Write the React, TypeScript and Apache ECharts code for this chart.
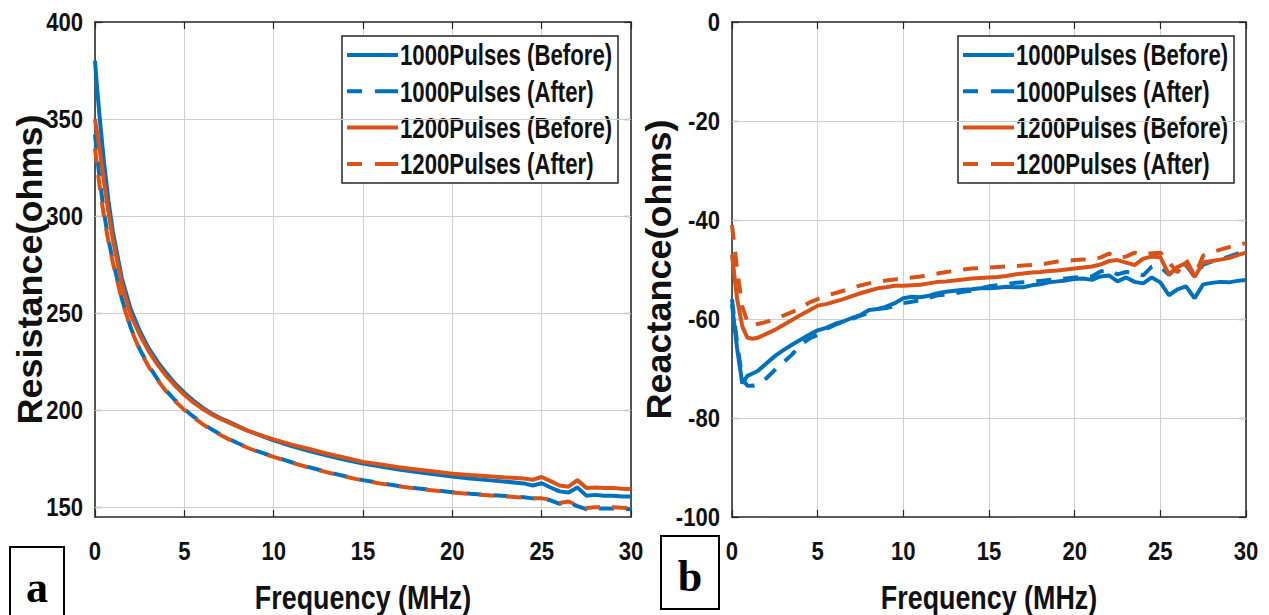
import { useEffect, useRef } from "react";
import * as echarts from "echarts";

// ---- Panel (a): resistance vs frequency ----
const freqRes = [0, 0.1, 0.25, 0.5, 0.75, 1, 1.5, 2, 2.5, 3, 3.5, 4, 4.5, 5, 5.5, 6, 6.5, 7, 7.5, 8, 8.5, 9, 9.5, 10, 11, 12, 13, 14, 15, 16, 17, 18, 19, 20, 21, 22, 23, 24, 24.5, 25, 25.5, 26, 26.5, 27, 27.5, 28, 28.5, 29, 29.5, 30];
const res1000Before = [380, 368, 352, 328, 308, 292, 268, 252, 241, 232, 225, 219, 213.5, 209, 205, 201.5, 198.5, 196, 194, 191.8, 189.6, 188, 186.2, 184.5, 181.5, 179, 176.6, 174.5, 172.5, 171, 169.5, 168.2, 167, 165.8, 164.8, 164, 163.2, 162.3, 161.2, 162.4, 160.2, 158.2, 157.6, 160.2, 156, 156.4, 156, 156, 155.6, 155.5];
const res1000After = [342, 333, 320, 302, 288, 277, 257.5, 242.5, 231.5, 223, 216, 210, 205, 200.6, 196.8, 193.4, 190.3, 187.6, 185.2, 183, 181, 179.2, 177.6, 176.2, 173.2, 170.6, 168.2, 166, 164, 162.4, 161, 159.8, 158.8, 157.8, 157, 156.4, 155.8, 155.2, 154.6, 154.4, 153.6, 151.8, 152.6, 150.6, 149, 149.4, 149.4, 149.4, 149.2, 149];
const res1200Before = [350, 344, 335, 318, 302, 288, 265, 249, 239, 230.5, 223.5, 217.5, 212.5, 208, 204, 200.8, 198, 195.6, 193.6, 191.6, 189.6, 188, 186.4, 185, 182.3, 180, 177.6, 175.5, 173.4, 172, 170.6, 169.5, 168.4, 167.3, 166.6, 166, 165.4, 164.8, 164.2, 165.6, 163.5, 161.2, 160.6, 164, 160, 160.2, 160, 160, 159.6, 159.4];
const res1200After = [335, 327, 316, 300, 287, 276, 257, 242, 231, 222.5, 215.5, 209.5, 204.5, 200.2, 196.4, 193, 190, 187.4, 185, 182.8, 180.8, 179, 177.4, 176, 173, 170.4, 168, 165.8, 163.8, 162.2, 160.8, 159.6, 158.6, 157.6, 156.8, 156.2, 155.6, 155, 154.6, 154.6, 154, 152.2, 153, 151, 149.6, 150, 150, 150, 149.8, 149.6];

// ---- Panel (b): reactance vs frequency ----
const freqReac = [0, 0.3, 0.6, 0.9, 1.2, 1.5, 2, 2.5, 3, 3.5, 4, 4.5, 5, 5.5, 6, 6.5, 7, 7.5, 8, 8.5, 9, 9.5, 10, 10.5, 11, 11.5, 12, 12.5, 13, 13.5, 14, 14.5, 15, 15.5, 16, 16.5, 17, 17.5, 18, 18.5, 19, 19.5, 20, 20.5, 21, 21.5, 22, 22.5, 23, 23.5, 24, 24.5, 25, 25.5, 26, 26.5, 27, 27.5, 28, 28.5, 29, 29.5, 30];
const reac1000Before = [-57, -66, -73, -71.5, -71, -70.5, -69, -67.5, -66.3, -65.2, -64.2, -63.2, -62.3, -61.8, -61, -60.5, -59.8, -59.2, -58.2, -58, -57.5, -56.8, -55.8, -55.5, -55.6, -55.3, -54.8, -54.5, -54.3, -54.1, -54, -53.8, -53.8, -53.7, -53.5, -53.6, -53.6, -53.2, -53, -52.6, -52.4, -52.2, -51.9, -51.8, -52.1, -51.4, -51.2, -52.4, -51.6, -52.5, -52.8, -51.6, -52.6, -55.2, -54, -53.4, -55.8, -53, -52.7, -52.5, -52.6, -52.3, -52.1];
const reac1000After = [-56, -65, -72, -73.5, -73.5, -73.2, -72, -70.3, -68.8, -67.2, -65.2, -64, -63.2, -62, -61.2, -60.6, -60, -59.3, -58.8, -58, -57.8, -57.4, -56.8, -56.5, -56.2, -55.7, -55.2, -55.1, -54.8, -54.5, -54.3, -53.8, -53.4, -53.2, -53, -52.7, -52.6, -52.5, -52.3, -52.1, -52, -51.8, -51.6, -51.5, -51.4, -50.4, -50.1, -51, -50.5, -50.6, -51.2, -49.4, -49.4, -51.1, -49.5, -49.1, -51.5, -49, -48.4, -47.9, -47.4, -46.8, -46.5];
const reac1200Before = [-47, -56, -61.5, -63.8, -64, -63.8, -63, -62.2, -61.2, -60.2, -59.2, -58.3, -57.3, -57, -56.5, -56, -55.4, -54.8, -54.3, -53.8, -53.6, -53.3, -53.3, -53.2, -53.1, -52.8, -52.5, -52.4, -52.2, -52, -51.8, -51.7, -51.6, -51.5, -51.3, -51, -50.8, -50.6, -50.5, -50.3, -50.2, -50, -49.8, -49.6, -49.4, -49, -48.3, -48.1, -48.6, -49.1, -47.8, -47.4, -47.5, -51, -49.5, -48.7, -51.5, -48.6, -48.3, -48, -47.7, -47.1, -46.6];
const reac1200After = [-41, -50, -57.5, -60.5, -61.3, -61, -60.6, -60, -59.3, -58.6, -57.8, -56.7, -56, -55.3, -54.8, -54.3, -53.8, -53.2, -52.8, -52.5, -52.2, -52, -51.8, -51.6, -51.4, -51.1, -50.8, -50.5, -50.3, -50, -49.8, -49.7, -49.6, -49.5, -49.4, -49.3, -49.2, -49.1, -49, -48.7, -48.4, -48.3, -48.1, -48, -47.9, -47.6, -46.8, -47.6, -47.4, -46.6, -47, -46.7, -46.6, -48.5, -50.6, -48, -51.3, -47.2, -46.5, -46, -45.5, -45, -44.7];

// ---- Axes ----
const freqTicks = [0, 5, 10, 15, 20, 25, 30];
const resTicks = [150, 200, 250, 300, 350, 400];
const reacTicks = [-100, -80, -60, -40, -20, 0];
const RES_MIN = 145;
const RES_MAX = 400;
const REAC_MIN = -100;
const REAC_MAX = 0;

const seriesNames = ["1000Pulses (Before)", "1000Pulses (After)", "1200Pulses (Before)", "1200Pulses (After)"];
const xAxisTitle = "Frequency (MHz)";
const yAxisTitles = ["Resistance(ohms)", "Reactance(ohms)"];
const panelLetters = ["a", "b"];

const BLUE = "#0072BD";
const ORANGE = "#D95319";
const AXIS_COLOR = "#262626";
const GRID_COLOR = "#cfcfcf";
const TEXT_COLOR = "#111111";
const SANS = '"Liberation Sans", Arial, Helvetica, sans-serif';
const SERIF = '"Liberation Serif", "Times New Roman", serif';

const DASH = [15, 12];
const lineStyles = [
  { color: BLUE, dashed: false },
  { color: BLUE, dashed: true },
  { color: ORANGE, dashed: false },
  { color: ORANGE, dashed: true },
];

// plot boxes (pixels) for both panels
const GRIDS = [
  { left: 95, top: 22, width: 536, height: 495 },
  { left: 732, top: 22, width: 514, height: 495 },
];
const LEGEND_BOXES = [
  { x: 342, y: 36, w: 276, h: 147 },
  { x: 958, y: 36, w: 276, h: 147 },
];

function buildXAxes(gridIndex: number) {
  const common = {
    type: "value" as const,
    gridIndex,
    min: 0,
    max: 30,
    interval: 5,
    axisLine: { show: true, onZero: false, lineStyle: { color: AXIS_COLOR, width: 1.5 } },
    axisTick: { show: true, inside: true, length: 7, lineStyle: { color: AXIS_COLOR, width: 1.2 } },
    axisLabel: { show: false },
  };
  return [
    { ...common, position: "bottom" as const, splitLine: { show: true, lineStyle: { color: GRID_COLOR, width: 1 } } },
    { ...common, position: "top" as const, splitLine: { show: false } },
  ];
}

function buildYAxes(gridIndex: number, min: number, max: number, ticks: number[]) {
  const common = {
    type: "value" as const,
    gridIndex,
    min,
    max,
    interval: 5,
    axisLine: { show: true, onZero: false, lineStyle: { color: AXIS_COLOR, width: 1.5 } },
    axisTick: { show: true, inside: true, length: 7, customValues: ticks, lineStyle: { color: AXIS_COLOR, width: 1.2 } },
    axisLabel: { show: false },
    splitLine: { show: false },
  };
  return [
    { ...common, position: "left" as const },
    { ...common, position: "right" as const },
  ];
}

function buildSeries(panel: number, freq: number[], values: number[][], ticks: number[], min: number, max: number) {
  const xAxisIndex = panel * 2;
  const yAxisIndex = panel * 2;
  // horizontal grid lines at the labelled ticks
  const gridLines = {
    type: "line" as const,
    xAxisIndex,
    yAxisIndex,
    data: [] as number[][],
    silent: true,
    markLine: {
      silent: true,
      symbol: "none",
      z: 1,
      label: { show: false },
      lineStyle: { color: GRID_COLOR, width: 1, type: "solid" },
      data: ticks.filter((v) => v > min && v < max).map((v) => ({ yAxis: v })),
    },
  };
  const curves = values.map((vals, i) => ({
    type: "line" as const,
    name: seriesNames[i],
    xAxisIndex,
    yAxisIndex,
    symbol: "none",
    showSymbol: false,
    z: 3,
    lineStyle: { color: lineStyles[i].color, type: lineStyles[i].dashed ? DASH : "solid", width: 4 },
    itemStyle: { color: lineStyles[i].color },
    data: freq.map((f, k) => [f, vals[k]]),
  }));
  return [gridLines, ...curves];
}

function tickText(x: number, y: number, text: string, align: string) {
  return {
    type: "text" as const,
    x,
    y,
    scaleX: 0.85,
    silent: true,
    style: {
      text,
      fontFamily: SANS,
      fontWeight: "bold",
      fontSize: 26,
      fill: TEXT_COLOR,
      align,
      verticalAlign: "middle",
    },
  };
}

function legendGroup(box: { x: number; y: number; w: number; h: number }) {
  const children: any[] = [
    {
      type: "rect",
      shape: { x: box.x, y: box.y, width: box.w, height: box.h },
      style: { fill: "#ffffff", stroke: AXIS_COLOR, lineWidth: 1.5 },
    },
  ];
  seriesNames.forEach((name, i) => {
    const cy = box.y + 19 + i * 36.3;
    children.push({
      type: "line",
      shape: { x1: box.x + 5, y1: cy, x2: box.x + 56, y2: cy },
      style: {
        stroke: lineStyles[i].color,
        lineWidth: 4,
        lineDash: lineStyles[i].dashed ? [15, 13, 23, 100] : null,
      },
    });
    children.push({
      type: "text",
      x: box.x + 58,
      y: cy,
      scaleX: 0.74,
      style: {
        text: name,
        fontFamily: SANS,
        fontWeight: "bold",
        fontSize: 30,
        fill: TEXT_COLOR,
        align: "left",
        verticalAlign: "middle",
      },
    });
  });
  return { type: "group" as const, silent: true, children };
}

function labelBox(x: number, y: number, w: number, h: number, letter: string) {
  return {
    type: "group" as const,
    silent: true,
    children: [
      {
        type: "rect" as const,
        shape: { x, y, width: w, height: h },
        style: { fill: "#ffffff", stroke: "#000000", lineWidth: 2 },
      },
      {
        type: "text" as const,
        x: x + w / 2,
        y: y + 40,
        style: {
          text: letter,
          fontFamily: SERIF,
          fontWeight: "bold",
          fontSize: 44,
          fill: "#000000",
          align: "center",
          verticalAlign: "middle",
        },
      },
    ],
  };
}

export default function App() {
  const ref = useRef<HTMLDivElement>(null);

  useEffect(() => {
    if (!ref.current) return;
    const chart = echarts.init(ref.current, null, { renderer: "svg" });
    chart.setOption({
      animation: false,
      backgroundColor: "#ffffff",
      grid: GRIDS.map((g) => ({ ...g, containLabel: false })),
      xAxis: [...buildXAxes(0), ...buildXAxes(1)],
      yAxis: [...buildYAxes(0, RES_MIN, RES_MAX, resTicks), ...buildYAxes(1, REAC_MIN, REAC_MAX, reacTicks)],
      series: [
        ...buildSeries(0, freqRes, [res1000Before, res1000After, res1200Before, res1200After], resTicks, RES_MIN, RES_MAX),
        ...buildSeries(1, freqReac, [reac1000Before, reac1000After, reac1200Before, reac1200After], reacTicks, REAC_MIN, REAC_MAX),
      ],
    });

    // Tick labels and axis titles, placed through each panel's own scales
    const panels = [
      { yTicks: resTicks, yMin: RES_MIN, yMax: RES_MAX },
      { yTicks: reacTicks, yMin: REAC_MIN, yMax: REAC_MAX },
    ];
    const graphics: any[] = [];
    panels.forEach((p, gi) => {
      const px = (x: number, y: number) => chart.convertToPixel({ gridIndex: gi }, [x, y]) as number[];
      const [left, bottom] = px(0, p.yMin);
      const [right, top] = px(30, p.yMax);
      freqTicks.forEach((f) => {
        const [x] = px(f, p.yMin);
        graphics.push(tickText(x, bottom + 34, String(f), "center"));
      });
      p.yTicks.forEach((v) => {
        const [, y] = px(0, v);
        graphics.push(tickText(left - 12, y, String(v), "right"));
      });
      graphics.push({
        type: "text",
        x: (left + right) / 2,
        y: bottom + 80,
        scaleX: 0.79,
        silent: true,
        style: {
          text: xAxisTitle,
          fontFamily: SANS,
          fontWeight: "bold",
          fontSize: 34,
          fill: TEXT_COLOR,
          align: "center",
          verticalAlign: "middle",
        },
      });
      graphics.push({
        type: "text",
        x: left - (gi === 0 ? 65 : 73),
        y: (top + bottom) / 2,
        rotation: Math.PI / 2,
        scaleY: 0.95,
        silent: true,
        style: {
          text: yAxisTitles[gi],
          fontFamily: SANS,
          fontWeight: "bold",
          fontSize: 36,
          fill: TEXT_COLOR,
          align: "center",
          verticalAlign: "middle",
        },
      });
      graphics.push(legendGroup(LEGEND_BOXES[gi]));
    });
    graphics.push(labelBox(10, 547, 54, 80, panelLetters[0]));
    graphics.push(labelBox(661, 536, 58, 73, panelLetters[1]));
    chart.setOption({ graphic: graphics });

    return () => chart.dispose();
  }, []);

  return (
    <div
      ref={ref}
      style={{ position: "fixed", left: 0, top: 0, width: 1269, height: 615, background: "#fff" }}
    />
  );
}
